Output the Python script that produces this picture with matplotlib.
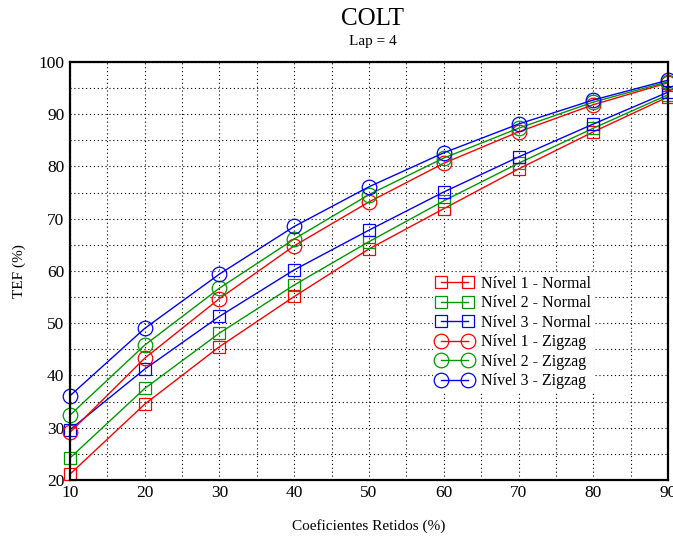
import numpy as np
import matplotlib
matplotlib.use('Agg')
import matplotlib.pyplot as plt
from matplotlib.ticker import MultipleLocator

plt.rcParams['font.family'] = ['Liberation Serif', 'DejaVu Serif']

# Coeficientes retidos (%)
coef = [10, 20, 30, 40, 50, 60, 70, 80, 90]

# TEF (%) por nivel e varredura
n1_normal = [21.1, 34.5, 45.5, 55.1, 64.2, 71.9, 79.5, 86.6, 93.3]
n2_normal = [24.2, 37.5, 48.1, 57.3, 65.6, 73.4, 80.6, 87.3, 93.7]
n3_normal = [29.6, 41.2, 51.3, 60.2, 67.8, 75.1, 81.8, 88.1, 94.2]
n1_zigzag = [29.1, 43.3, 54.7, 64.8, 73.2, 80.6, 86.6, 91.8, 96.0]
n2_zigzag = [32.4, 45.8, 56.7, 66.1, 74.6, 81.6, 87.3, 92.3, 96.2]
n3_zigzag = [36.1, 49.0, 59.4, 68.5, 76.1, 82.6, 88.1, 92.7, 96.5]

series = [
    (n1_normal, 'Nível 1 - Normal', 'red', 's'),
    (n2_normal, 'Nível 2 - Normal', '#009900', 's'),
    (n3_normal, 'Nível 3 - Normal', 'blue', 's'),
    (n1_zigzag, 'Nível 1 - Zigzag', 'red', 'o'),
    (n2_zigzag, 'Nível 2 - Zigzag', '#009900', 'o'),
    (n3_zigzag, 'Nível 3 - Zigzag', 'blue', 'o'),
]

fig = plt.figure(figsize=(6.73, 5.38), dpi=100)
ax = fig.add_axes([0.104, 0.108, 0.8886, 0.777])

for vals, lab, col, mk in series:
    ms = 8.5 if mk == 's' else 10.5
    ax.plot(coef, vals, color=col, marker=mk, markersize=ms,
            markerfacecolor='none', markeredgecolor=col,
            markeredgewidth=0.9, linewidth=1.0, label=lab, clip_on=False)

ax.set_xlim(10, 90)
ax.set_ylim(20, 100)
ax.xaxis.set_major_locator(MultipleLocator(10))
ax.yaxis.set_major_locator(MultipleLocator(10))
ax.xaxis.set_minor_locator(MultipleLocator(5))
ax.yaxis.set_minor_locator(MultipleLocator(5))
ax.grid(True, which='both', linestyle=(0, (1, 2.5)), color='black',
        linewidth=0.8)
ax.set_axisbelow(True)
ax.tick_params(which='both', length=0, labelsize=12.5, pad=4)
for s in ax.spines.values():
    s.set_linewidth(1.6)

ax.set_xlabel('Coeficientes Retidos (%)', fontsize=11, labelpad=13)
ax.set_ylabel('TEF (%)', fontsize=11, labelpad=9)

fig.text(0.554, 0.965, 'COLT', ha='center', va='center', fontsize=18)
fig.text(0.554, 0.923, 'Lap = 4', ha='center', va='center', fontsize=11)

leg = ax.legend(loc='upper left', bbox_to_anchor=(0.607, 0.496), frameon=True,
                numpoints=2, fontsize=11.5, labelspacing=0.22,
                handlelength=2.3, handletextpad=0.5, borderaxespad=0,
                borderpad=0.2, fancybox=False, framealpha=1)
leg.get_frame().set_edgecolor('none')

fig.savefig('out.png', dpi=100)
